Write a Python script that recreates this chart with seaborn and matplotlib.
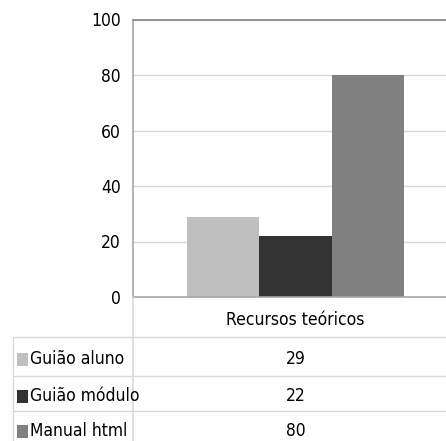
import matplotlib
matplotlib.use("Agg")
import matplotlib.pyplot as plt
from matplotlib import font_manager
from matplotlib.patches import Rectangle
from matplotlib.lines import Line2D
from matplotlib.transforms import blended_transform_factory
import pandas as pd
import seaborn as sns

# Data
categorias = ["Recursos teóricos"]
series = ["Guião aluno", "Guião módulo", "Manual html"]
valores = [29, 22, 80]
cores = ["#BFBFBF", "#333333", "#808080"]
yticks = [0, 20, 40, 60, 80, 100]

df = pd.DataFrame({
    "categoria": categorias * len(series),
    "serie": series,
    "valor": valores,
})

sns.set_style("white")
nomes = {f.name for f in font_manager.fontManager.ttflist}
esticar = "normal"
if "Liberation Sans Narrow" in nomes:
    familia = "Liberation Sans Narrow"
elif any(f.name == "DejaVu Sans" and f.stretch == "condensed" for f in font_manager.fontManager.ttflist):
    familia, esticar = "DejaVu Sans", "condensed"
else:
    familia = "Lato"
plt.rcParams["font.family"] = [familia, "DejaVu Sans"]
plt.rcParams["font.stretch"] = esticar
plt.rcParams["font.size"] = 12.5
for k in ("text.color", "xtick.labelcolor", "ytick.labelcolor"):
    plt.rcParams[k] = "black"

W, H = 446, 441
fig = plt.figure(figsize=(W / 100, H / 100), dpi=100)

def fx(px):
    return px / W

def fy(py):
    return 1 - py / H

# plot area in pixels
x0, x1 = 133, 446
y_top, y_zero = 19.5, 297
ax = fig.add_axes([fx(x0), fy(y_zero), fx(x1) - fx(x0), (y_zero - y_top) / H])

largura = 0.8
sns.barplot(data=df, x="categoria", y="valor", hue="serie", palette=cores,
            width=largura, saturation=1, linewidth=0, legend=False, ax=ax)

# centre the category group within the visible area
unidade = 217 / largura
centro = 295.5
ax.set_xlim(-(centro - x0) / unidade, (x1 - centro) / unidade)
ax.set_ylim(0, 100)
ax.set_yticks(yticks)
ax.yaxis.grid(True, color="#D9D9D9", linewidth=1)
ax.set_axisbelow(True)
ax.axhline(100, color="#8C8C8C", linewidth=1.3, clip_on=False, zorder=3)

for s in ("top", "right"):
    ax.spines[s].set_visible(False)
for s in ("left", "bottom"):
    ax.spines[s].set_color("#A6A6A6")
    ax.spines[s].set_linewidth(1.2)

ax.tick_params(axis="y", length=3.6, width=1, color="#A6A6A6", pad=5,
               labelsize=12.5, labelcolor="black")
ax.set_xticks([0])
ax.set_xticklabels(categorias)
ax.tick_params(axis="x", length=0, pad=10, labelsize=12.5, labelcolor="black")
ax.set_xlabel("")
ax.set_ylabel("")

# data table below the chart
cor_tabela = "#D9D9D9"
linhas_y = [337, 375.5, 411]
for py in linhas_y:
    fig.add_artist(Line2D([fx(13), fx(446)], [fy(py), fy(py)], color=cor_tabela, lw=1))
fig.add_artist(Line2D([fx(13), fx(13)], [fy(337), fy(441)], color=cor_tabela, lw=1))
fig.add_artist(Line2D([fx(133), fx(133)], [fy(297), fy(441)], color=cor_tabela, lw=1.2))

trans = blended_transform_factory(ax.transData, fig.transFigure)
linhas_texto = [359, 396, 431.5]
for nome, valor, cor, py in zip(series, valores, cores, linhas_texto):
    fig.add_artist(Rectangle((fx(17), fy(py + 6.5)), 11 / W, 13 / H,
                             transform=fig.transFigure, color=cor, lw=0))
    fig.text(fx(30), fy(py), nome, ha="left", va="center", fontsize=12.5, color="black")
    ax.text(0, fy(py), f"{valor}", transform=trans, ha="center", va="center",
            fontsize=12.5, color="black", clip_on=False)

fig.savefig("out.png", dpi=100)
